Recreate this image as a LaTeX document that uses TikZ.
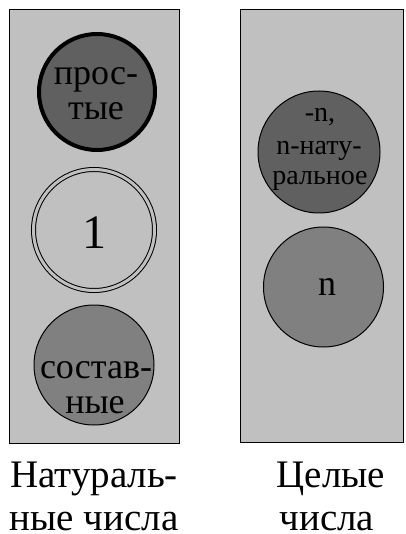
\documentclass[tikz,border=0pt]{standalone}
\usepackage{fontspec}
\setmainfont{Liberation Serif}
\definecolor{bg}{HTML}{C0C0C0}
\definecolor{darkfill}{HTML}{606060}
\definecolor{midfill}{HTML}{808080}
\begin{document}
\begin{tikzpicture}[x=1pt,y=-1pt,
  panel/.style={draw=black, fill=bg, line width=1pt},
  disc/.style={circle, draw=black, line width=1pt, inner sep=0pt},
  txt/.style={anchor=base, inner sep=0pt},
  f28/.style={font=\fontsize{28}{30}\selectfont},
  f36/.style={font=\fontsize{36}{38}\selectfont},
  f39/.style={font=\fontsize{39}{41}\selectfont},
  f48/.style={font=\fontsize{48}{50}\selectfont}]
\useasboundingbox (0,0) rectangle (405,534);
\draw[panel] (9,10) rectangle (179,443);
\draw[panel] (240,10) rectangle (403,442);
% left panel
\node[disc, fill=darkfill, line width=4pt, minimum size=116pt] (prime) at (97,92) {};
\node[disc, draw=black, double=bg, double distance=3pt, minimum size=121pt] (one) at (94,230) {};
\node[disc, fill=midfill, minimum size=120pt] (comp) at (94,365) {};
% right panel
\node[disc, fill=darkfill, minimum size=122pt] (neg) at (319,152) {};
\node[disc, fill=midfill, minimum size=120pt] (pos) at (323.5,287) {};
% texts
\node[txt, f36] (t1) at (96,85) {прос-};
\node[txt, f36] (t2) at (96,120) {тые};
\node[txt, f48] (t3) at (94,248) {1};
\node[txt, f36] (t4) at (96,378) {состав-};
\node[txt, f36] (t5) at (95,413) {ные};
\node[txt, f28] (t6) at (320,122) {-n,};
\node[txt, f28] (t7) at (319,155) {n-нату-};
\node[txt, f28] (t8) at (320,185) {ральное};
\node[txt, f36] (t9) at (327,295) {n};
\node[txt, f39] (l1) at (94,487) {Натураль-};
\node[txt, f39, text depth=0pt] (l2) at (94,530) {ные числа};
\node[txt, f39] (l3) at (331,487) {Целые};
\node[txt, f39, text depth=0pt] (l4) at (327,530) {числа};
\end{tikzpicture}
\end{document}
